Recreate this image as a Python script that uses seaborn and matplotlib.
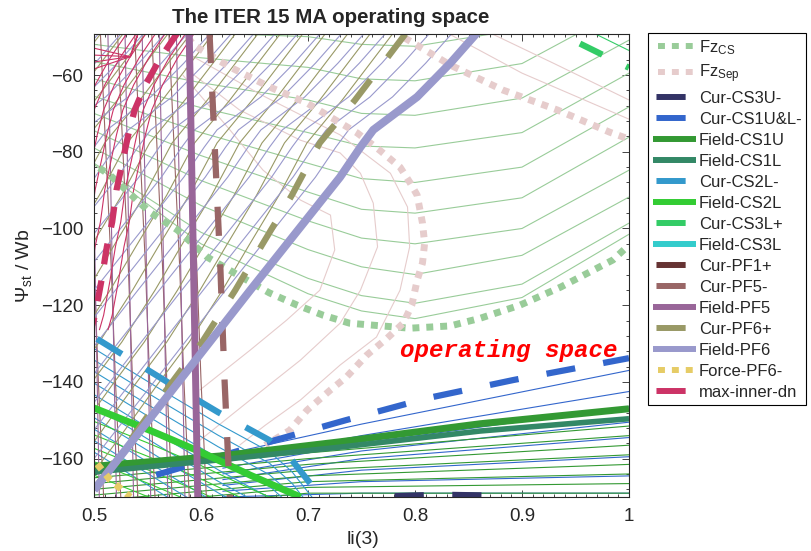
import numpy as np
import matplotlib
matplotlib.use('Agg')
import matplotlib.pyplot as plt
from matplotlib.lines import Line2D
from matplotlib.ticker import MultipleLocator
import seaborn as sns

sns.set_style('ticks')
plt.rcParams['font.family'] = ['Liberation Sans', 'DejaVu Sans']
plt.rcParams['lines.scale_dashes'] = False

# ---- thick boundary lines (li(3), Psi_st) ----
FZCS_X = [0.501, 0.515, 0.552, 0.578, 0.606, 0.630, 0.664, 0.690, 0.714, 0.739, 0.795, 0.833, 0.861, 0.898, 0.936, 0.985, 1.0]
FZCS_Y = [-83.5, -86.1, -95.7, -100.4, -107.5, -111.4, -116.8, -120.0, -122.6, -124.7, -126.0, -125.4, -123.4, -120.0, -115.3, -108.2, -104.3]

FZSEP_A_X = [0.585, 0.593, 0.627, 0.664, 0.699, 0.746, 0.767, 0.786, 0.795, 0.802, 0.807, 0.809, 0.807, 0.802,
             0.797, 0.789, 0.774, 0.755, 0.736, 0.721, 0.699, 0.683, 0.660]
FZSEP_A_Y = [-49.0, -52.2, -57.9, -63.1, -67.3, -75.1, -79.6, -84.0, -87.9, -91.3, -98.6, -103.8, -109.0, -113.5,
             -120.0, -124.7, -128.6, -133.0, -138.7, -142.1, -147.4, -152.6, -156.5]
FZSEP_B_X = [0.786, 0.833, 0.882, 0.933, 0.982, 1.0]
FZSEP_B_Y = [-49.6, -57.4, -63.9, -69.1, -74.9, -76.7]

CS3U_X = [0.781, 0.823, 0.866]
CS3U_Y = [-169.8, -169.4, -169.6]

CS1UL_X = [0.555, 0.669, 0.735, 0.812, 0.892, 1.0]
CS1UL_Y = [-164.5, -155.2, -150.0, -144.2, -139.5, -133.8]

FCS1U_X = [0.5, 0.618, 0.73, 0.861, 1.0]
FCS1U_Y = [-162.0, -159.3, -155.6, -150.9, -147.0]
FCS1L_X = [0.5, 0.618, 0.73, 0.861, 1.0]
FCS1L_Y = [-163.5, -160.3, -157.0, -152.8, -149.6]

CS2L_X = [0.5, 0.569, 0.616, 0.664, 0.685, 0.707, 0.712]
CS2L_Y = [-128.3, -140.1, -147.9, -155.2, -160.4, -168.2, -171.0]

FCS2L_X = [0.5, 0.552, 0.6, 0.646, 0.693]
FCS2L_Y = [-146.8, -152.6, -158.3, -164.3, -170.0]

CS3LP_X = [0.925, 1.0]
CS3LP_Y = [-47.8, -58.1]

FPF5_X = [0.589, 0.597]
FPF5_Y = [-49.0, -170.5]

CPF5_X = [0.608, 0.613, 0.618, 0.622, 0.627]
CPF5_Y = [-49.3, -79.6, -109.5, -139.5, -170.0]

CPF6_X = [0.791, 0.744, 0.711, 0.685, 0.657, 0.632, 0.601, 0.571, 0.534, 0.5]
CPF6_Y = [-49.3, -66.5, -77.7, -91.3, -104.3, -116.1, -129.6, -140.8, -155.2, -168.0]

FPF6_X = [0.858, 0.833, 0.802, 0.761, 0.749, 0.730, 0.646, 0.5]
FPF6_Y = [-49.0, -56.9, -65.7, -74.3, -78.8, -86.6, -116.1, -168.2]

FORCE_X = [0.5, 0.515, 0.534]
FORCE_Y = [-160.4, -165.5, -170.0]

MAXIN_X = [0.578, 0.562, 0.548, 0.538, 0.532, 0.526, 0.521, 0.517, 0.512, 0.507, 0.501, 0.497]
MAXIN_Y = [-49.0, -55.6, -62.6, -69.1, -75.6, -83.5, -90.0, -98.3, -104.8, -113.5, -122.6, -126.5]

# ---- thin contour lines ----
FZCS_THIN_X = [0.5, 0.6, 0.7, 0.75, 0.8, 0.9, 1.0]
FZCS_THIN_Y = [
    [-83.3, -104, -117, -121.5, -123.5, -118, -101.5],
    [-83, -101, -113, -117.5, -119.5, -114.5, -98.6],
    [-79, -94, -105.5, -110, -112, -107, -91.8],
    [-74.5, -87.5, -98, -102.5, -104, -100, -84.8],
    [-70, -81, -90.5, -95, -96, -92, -76.2],
    [-65.5, -75, -83, -87, -88, -84, -68.3],
    [-61, -68.5, -75, -78.5, -79, -75, -59.5],
    [-56.5, -62, -66.5, -70, -70.5, -66, -50.9],
    [-52, -55.5, -58, -61, -61.5, -57, -42],
    [-47.5, -49, -50, -52, -52.5, -48, -33],
]

SEP_P1_X = [0.590, 0.660, 0.730, 0.777, 0.793, 0.795, 0.786, 0.764, 0.730, 0.693, 0.660, 0.636]
SEP_P1_Y = [-54.8, -65.7, -75.6, -85.6, -94.4, -104.8, -116.1, -128.3, -135.6, -144.7, -151.3, -156.5]
SEP_P2_X = [0.585, 0.636, 0.693, 0.730, 0.749, 0.761, 0.765, 0.749, 0.730, 0.693, 0.646, 0.599]
SEP_P2_Y = [-58.2, -69.1, -77.0, -80.3, -85.6, -93.4, -104.8, -116.1, -124.7, -134.3, -144.7, -155.2]
SEP_P3_X = [0.583, 0.627, 0.658, 0.693, 0.721, 0.725, 0.711, 0.680, 0.646, 0.599]
SEP_P3_Y = [-60.0, -74.3, -84.8, -92.6, -96.5, -105.6, -116.1, -123.9, -131.7, -142.1]
SEP_B1_X = [0.87, 0.93, 1.0]
SEP_B1_Y = [-49.0, -57.0, -66.5]
SEP_B2_X = [0.83, 0.9, 1.0]
SEP_B2_Y = [-49.0, -59.5, -71.5]

FPF6_THIN_DX = [-0.023, -0.044, -0.064, -0.085, -0.105, -0.126, -0.146, -0.167, -0.188, -0.208,
                -0.229, -0.249, -0.270, -0.291, -0.311, -0.332, -0.353]
CPF6_THIN_DX = [-0.012, -0.033, -0.054, -0.075, -0.096, -0.117, -0.138, -0.159, -0.180, -0.201,
                -0.222, -0.243, -0.264, -0.285]
FPF5_THIN_DX = [-0.012, -0.028, -0.044, -0.060, -0.076, -0.092]
CPF5_THIN_DX = [-0.022, -0.038, -0.054, -0.070, -0.086, -0.102, -0.118]
MAXIN_THIN_DX = [-0.047, -0.038, -0.029, -0.020, -0.011, 0.008, 0.016]
MAG_FAN_YL = [-53.0, -54.8, -56.6, -58.4]

CS1UL_THIN_X = [0.62, 0.75, 1.0]
CS1UL_THIN_Y = [
    [-159, -151, -137], [-161, -154, -142.5], [-162.5, -156, -146.5], [-164, -158, -150.5],
    [-165.5, -160, -154.5], [-167, -163, -159.5], [-168.5, -166, -164.5], [-170, -169, -169],
]
FCS1U_THIN_X = [0.5, 0.7, 1.0]
FCS1U_THIN_Y = [
    [-163.5, -158.5, -151.5], [-165, -160, -154], [-166.5, -161.5, -156.5], [-168, -163, -159],
    [-169.5, -164.5, -161.5], [-171, -166, -164], [-172.5, -167.5, -166.5], [-174, -169, -169],
]
CS2L_THIN_DY = [-3, -6, -9, -12, -15, -18, -21, -24, -27, -30]
FCS2L_THIN_DY = [-3.5, -7, -10.5, -14, -17.5]
CS3LP_THIN_DY = [4.5, 9]

LABELS = ['$\\mathregular{Fz_{CS}}$', '$\\mathregular{Fz_{Sep}}$', 'Cur-CS3U-', 'Cur-CS1U&L-', 'Field-CS1U',
          'Field-CS1L', 'Cur-CS2L-', 'Field-CS2L', 'Cur-CS3L+', 'Field-CS3L', 'Cur-PF1+', 'Cur-PF5-',
          'Field-PF5', 'Cur-PF6+', 'Field-PF6', 'Force-PF6-', 'max-inner-dn']
COLORS = ['#99cc99', '#e6cccc', '#333366', '#3366cc', '#339933', '#338866', '#3399cc', '#33cc33',
          '#33cc66', '#33cccc', '#663333', '#996666', '#996699', '#999966', '#9999cc', '#e6cc66', '#cc3366']
KINDS = ['dot', 'dot', 'cur', 'cur', 'field', 'field', 'cur', 'field', 'cur', 'field', 'cur', 'cur',
         'field', 'cur', 'field', 'dot', 'cur']

DOT = (6.4, (5, 5))
DASH = (39, (21, 20.5))
THIN = 0.8

fig = plt.figure(figsize=(8.11, 5.51), dpi=100)
ax = fig.add_axes([94 / 811, 54 / 551, 535 / 811, 463 / 551])


def draw(x, y, color, lw, ls='-'):
    sns.lineplot(x=np.asarray(x, float), y=np.asarray(y, float), sort=False, estimator=None,
                 color=color, linewidth=lw, linestyle=ls, solid_capstyle='butt',
                 dash_capstyle='butt', ax=ax)


# thin contour families
for ys in FZCS_THIN_Y:
    draw(FZCS_THIN_X, ys, COLORS[0], THIN)
for xs, ys in [(SEP_P1_X, SEP_P1_Y), (SEP_P2_X, SEP_P2_Y), (SEP_P3_X, SEP_P3_Y),
               (SEP_B1_X, SEP_B1_Y), (SEP_B2_X, SEP_B2_Y)]:
    draw(xs, ys, COLORS[1], THIN)
for ys in CS1UL_THIN_Y:
    draw(CS1UL_THIN_X, ys, COLORS[3], THIN)
for ys in FCS1U_THIN_Y:
    draw(FCS1U_THIN_X, ys, COLORS[4], THIN)
for dy in CS2L_THIN_DY:
    draw(CS2L_X, np.add(CS2L_Y, dy), COLORS[6], THIN)
for dy in FCS2L_THIN_DY:
    draw(FCS2L_X, np.add(FCS2L_Y, dy), COLORS[7], THIN)
for dy in CS3LP_THIN_DY:
    draw(CS3LP_X, np.add(CS3LP_Y, dy), COLORS[8], THIN)
for dx in CPF5_THIN_DX:
    draw(np.add(CPF5_X, dx), CPF5_Y, COLORS[11], THIN)
for dx in FPF5_THIN_DX:
    draw(np.add(FPF5_X, dx), FPF5_Y, COLORS[12], THIN)
for dx in CPF6_THIN_DX:
    draw(np.add(CPF6_X, dx), CPF6_Y, COLORS[13], THIN)
for dx in FPF6_THIN_DX:
    draw(np.add(FPF6_X, dx), FPF6_Y, COLORS[14], THIN)
for dx in MAXIN_THIN_DX:
    draw(np.add(MAXIN_X, dx), MAXIN_Y, COLORS[16], THIN)
for yl in MAG_FAN_YL:
    draw([0.5, 0.534, 0.541], [yl, -55.2, -49.3], COLORS[16], THIN)

# thick boundaries, in legend order
draw(FZCS_X, FZCS_Y, COLORS[0], 5, DOT)
draw(FZSEP_A_X, FZSEP_A_Y, COLORS[1], 5, DOT)
draw(FZSEP_B_X, FZSEP_B_Y, COLORS[1], 5, DOT)
draw(CS3U_X, CS3U_Y, COLORS[2], 4.5, (0, (21, 20.5)))
draw(CS1UL_X, CS1UL_Y, COLORS[3], 4.5, DASH)
draw(FCS1U_X, FCS1U_Y, COLORS[4], 5)
draw(FCS1L_X, FCS1L_Y, COLORS[5], 4)
draw(CS2L_X, CS2L_Y, COLORS[6], 4.5, DASH)
draw(FCS2L_X, FCS2L_Y, COLORS[7], 5)
draw(CS3LP_X, CS3LP_Y, COLORS[8], 4.5, (12, (18, 19)))
draw(CPF5_X, CPF5_Y, COLORS[11], 4.5, (0, (21, 20.5)))
draw(FPF5_X, FPF5_Y, COLORS[12], 5)
draw(CPF6_X, CPF6_Y, COLORS[13], 4.5, (0, (21, 20.5)))
draw(FPF6_X, FPF6_Y, COLORS[14], 5.8)
draw(FORCE_X, FORCE_Y, COLORS[15], 5, DOT)
draw(MAXIN_X, MAXIN_Y, COLORS[16], 4.5, (0, (15, 12)))

ax.text(0.786, -133.5, 'operating space', color='red', fontsize=17.4, fontweight='bold',
        fontstyle='italic', family='Liberation Mono', ha='left', va='baseline')

ax.set_xlim(0.5, 1.0)
ax.set_ylim(-170.0, -49.3)
ax.set_xticks([0.5, 0.6, 0.7, 0.8, 0.9, 1.0])
ax.set_xticklabels(['0.5', '0.6', '0.7', '0.8', '0.9', '1'])
ax.set_yticks([-160, -140, -120, -100, -80, -60])
ax.xaxis.set_minor_locator(MultipleLocator(0.01))
ax.yaxis.set_minor_locator(MultipleLocator(4))
ax.tick_params(which='both', direction='in', top=True, right=True, colors='#262626', width=0.6)
ax.tick_params(which='major', length=5, labelsize=13.5)
ax.tick_params(axis='x', which='major', pad=8)
ax.tick_params(axis='y', which='major', pad=7.5)
ax.tick_params(which='minor', length=2.5)
for s in ax.spines.values():
    s.set_color('#262626')
    s.set_linewidth(0.8)

ax.set_xlabel('li(3)', fontsize=14, color='#262626')
ax.set_ylabel('Ψ$_{\\mathregular{st}}$ / Wb', fontsize=14, color='#262626')
ax.xaxis.set_label_coords(0.503, -0.074)
ax.yaxis.set_label_coords(-0.11, 0.5)

fig.text(331 / 811, 1 - 23 / 551, 'The ITER 15 MA operating space', fontsize=14.8, fontweight='bold',
         ha='center', va='baseline')

handles = []
for c, k in zip(COLORS, KINDS):
    if k == 'dot':
        handles.append(Line2D([], [], color=c, lw=4.3, linestyle=DOT, dash_capstyle='butt'))
    elif k == 'cur':
        handles.append(Line2D([], [], color=c, lw=4.3, linestyle=DASH, dash_capstyle='butt'))
    else:
        handles.append(Line2D([], [], color=c, lw=4.3, solid_capstyle='butt'))
leg = ax.legend(handles, LABELS, loc='upper left', bbox_to_anchor=(648 / 811, 1 - 33 / 551),
                bbox_transform=fig.transFigure, fontsize=12, handlelength=2.6, handletextpad=0.15,
                borderpad=0.3, labelspacing=0.36, borderaxespad=0, frameon=True, fancybox=False,
                edgecolor='black', framealpha=1)
leg.get_frame().set_linewidth(0.8)

fig.savefig('out.png', dpi=100)
